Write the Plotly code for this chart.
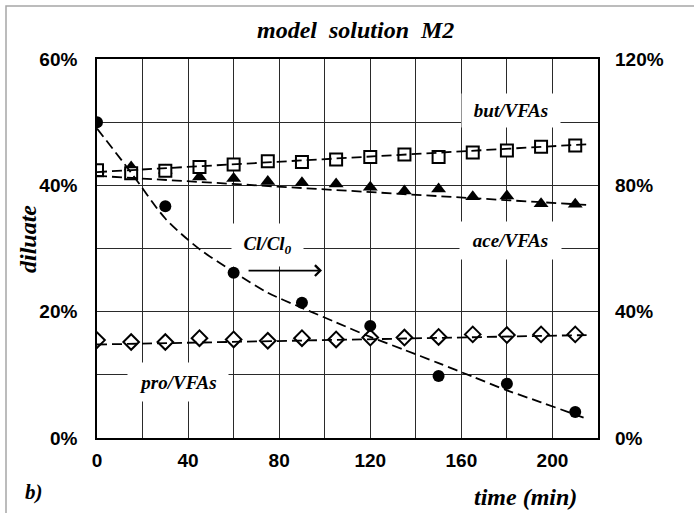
import plotly.graph_objects as go

# sampling times (min)
time_min = [0, 15, 30, 45, 60, 75, 90, 105, 120, 135, 150, 165, 180, 195, 210]

# fractions of total VFAs in the diluate (%)
but_vfas = [42.4, 41.9, 42.3, 42.9, 43.3, 43.8, 43.7, 44.1, 44.5, 44.9, 44.5, 45.2, 45.5, 46.1, 46.3]
ace_vfas = [42.3, 42.9, 42.4, 41.3, 41.1, 40.6, 40.4, 40.2, 39.7, 39.1, 39.4, 38.2, 38.3, 37.1, 37.0]
pro_vfas = [15.5, 15.2, 15.2, 15.8, 15.6, 15.4, 15.8, 15.6, 15.9, 15.9, 16.0, 16.4, 16.3, 16.4, 16.4]

# model lines for the VFA fractions (%)
model_t = [0, 215]
but_model = [42.1, 46.5]
ace_model = [41.5, 36.9]
pro_model = [14.8, 16.3]

# chloride ratio Cl/Cl0 (%), measured every 30 min
cl_time = [0, 30, 60, 90, 120, 150, 180, 210]
cl_ratio = [100.0, 73.4, 52.3, 42.8, 35.5, 19.6, 17.2, 8.2]

# model curve for Cl/Cl0 (%)
cl_model_t = [0, 15, 30, 45, 60, 75, 90, 105, 120, 135, 150, 165, 180, 195, 210, 215]
cl_model = [98.0, 84.0, 69.5, 59.8, 52.6, 46.0, 41.2, 36.6, 32.0, 27.9, 23.7, 19.4, 15.1, 11.3, 7.4, 6.1]

x_ticks = [0, 40, 80, 120, 160, 200]
left_ticks = [0, 20, 40, 60]
right_ticks = [0, 40, 80, 120]

SERIF = "Liberation Serif, Times New Roman, serif"
SANS = "Liberation Sans, Arial, sans-serif"
DASH = "10px,5px"

# plot-area geometry in pixels
W, H = 694, 513
ML, MR, MT, MB = 97, 96, 59, 75
PW, PH = W - ML - MR, H - MT - MB


def px(x):
    return (x - ML) / PW


def py(y):
    return (H - MB - y) / PH


def bold(vals, suffix=""):
    return [f"<b>{v}{suffix}</b>" for v in vals]


fig = go.Figure()

# measured points (white-filled open markers, drawn below the model lines)
fig.add_trace(go.Scatter(x=time_min, y=pro_vfas, mode="markers", name="pro/VFAs",
                         marker=dict(symbol="diamond", size=12, color="white",
                                     line=dict(width=2, color="black")),
                         showlegend=False))
fig.add_trace(go.Scatter(x=time_min, y=ace_vfas, mode="markers", name="ace/VFAs",
                         marker=dict(symbol="triangle-up", size=13, color="black"),
                         showlegend=False))
fig.add_trace(go.Scatter(x=time_min, y=but_vfas, mode="markers", name="but/VFAs",
                         marker=dict(symbol="square", size=12, color="white",
                                     line=dict(width=2, color="black")),
                         showlegend=False))
fig.add_trace(go.Scatter(x=cl_time, y=cl_ratio, mode="markers", name="Cl/Cl0", yaxis="y2",
                         marker=dict(symbol="circle", size=12, color="black"),
                         showlegend=False))

line_style = dict(color="black", width=1.8, dash=DASH)

for vals in (pro_model, ace_model, but_model):
    fig.add_trace(go.Scatter(x=model_t, y=vals, mode="lines",
                             line=line_style, hoverinfo="skip", showlegend=False))

fig.add_trace(go.Scatter(x=cl_model_t, y=cl_model, mode="lines", yaxis="y2",
                         line=dict(color="black", width=1.8, dash=DASH, shape="spline",
                                   smoothing=0.8),
                         hoverinfo="skip", showlegend=False))

grid_col = "#2a2a2a"
tick_font = dict(family=SANS, size=19, color="black")

fig.update_layout(
    width=W, height=H,
    margin=dict(l=ML, r=MR, t=MT, b=MB),
    paper_bgcolor="white", plot_bgcolor="white",
    xaxis=dict(range=[0, 220], tickvals=x_ticks, ticktext=bold(x_ticks),
               showgrid=True, gridcolor=grid_col,
               gridwidth=1, zeroline=False, showline=True, linecolor="black",
               linewidth=1.6, mirror=True, ticks="", tickfont=tick_font,
               ticklabelstandoff=4,
               minor=dict(dtick=20, tick0=0, showgrid=True, gridcolor=grid_col,
                          gridwidth=1, ticks="")),
    yaxis=dict(range=[0, 60], tickvals=left_ticks, ticktext=bold(left_ticks, "%"),
               showgrid=True, gridcolor=grid_col,
               gridwidth=1, zeroline=False, showline=True, linecolor="black",
               linewidth=1.6, mirror=True, ticks="", tickfont=tick_font,
               ticklabelstandoff=14,
               minor=dict(dtick=10, tick0=0, showgrid=True, gridcolor=grid_col,
                          gridwidth=1, ticks="")),
    yaxis2=dict(range=[0, 120], tickvals=right_ticks, ticktext=bold(right_ticks, "%"),
                overlaying="y", side="right",
                showgrid=False, zeroline=False, showline=False, ticks="",
                tickfont=tick_font, ticklabelstandoff=16),
)

label_font = dict(family=SERIF, size=19, color="black", weight="bold", style="italic")

# series labels on white boxes over the grid
for text, x, y, w, h in [
    ("but/VFAs", 182, 51.9, 96, 31),
    ("ace/VFAs", 181.6, 31.2, 99, 35),
    ("pro/VFAs", 35.6, 8.8, 98, 36),
    ("Cl/Cl<sub>0</sub>", 74.9, 30.6, 69, 40),
]:
    fig.add_annotation(x=x, y=y, xref="x", yref="y", text=text, showarrow=False,
                       font=label_font, bgcolor="white", width=w, height=h,
                       borderpad=1)

# arrow pointing to the right-hand axis
fig.add_annotation(x=98.8, y=26.5, ax=65.9, ay=26.5, xref="x", yref="y",
                   axref="x", ayref="y", text="", showarrow=True, arrowhead=4,
                   arrowsize=1.3, arrowwidth=1.6, arrowcolor="black", standoff=0,
                   startstandoff=0)

title_font = dict(family=SERIF, size=24, color="black", weight="bold", style="italic")
for text, x, y, angle in [
    ("model  solution  M2", 355, 30, 0),
    ("diluate", 28, 239, -90),
    ("time (min)", 525.5, 496.7, 0),
]:
    fig.add_annotation(x=px(x), y=py(y), xref="paper", yref="paper", text=text,
                       textangle=angle, showarrow=False, font=title_font,
                       xanchor="center", yanchor="middle")
fig.add_annotation(x=px(33.5), y=py(491.7), xref="paper", yref="paper", text="b)",
                   showarrow=False, xanchor="center", yanchor="middle",
                   font=dict(family=SERIF, size=21, color="black",
                             weight="bold", style="italic"))

# outer frame of the figure
fig.add_shape(type="rect", xref="paper", yref="paper",
              x0=px(6), x1=px(720), y0=py(540), y1=py(6),
              line=dict(color="#a6a6a6", width=1.5), fillcolor="rgba(0,0,0,0)",
              layer="below")

fig.write_html("out.html")
